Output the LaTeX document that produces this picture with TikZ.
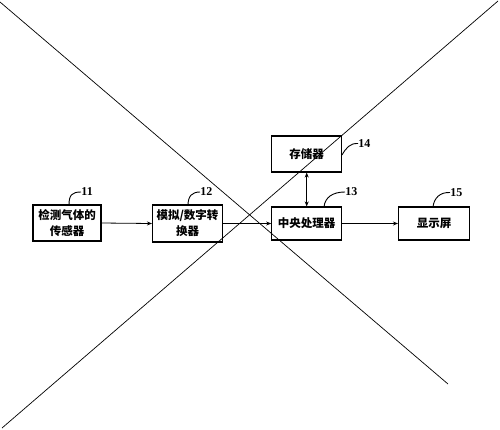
\documentclass[tikz,border=0pt]{standalone}
\usepackage{fontspec}
\setmainfont{Liberation Serif}
\newfontfamily\cjk{Noto Sans CJK SC}
\usetikzlibrary{arrows.meta}
\begin{document}
\begin{tikzpicture}[x=1pt,y=-1pt,
  blk/.style={draw,line width=1.1pt,inner sep=0pt,align=center,
    font=\cjk\bfseries\fontsize{11.5}{16}\selectfont},
  conn/.style={line width=0.8pt,-{Stealth[length=5pt,width=4pt]}},
  lead/.style={line width=0.9pt},
  num/.style={font=\bfseries\fontsize{12}{12}\selectfont,inner sep=0pt,anchor=west},
  cross/.style={line width=0.7pt}]
\useasboundingbox (0,0) rectangle (500,429);
\fill[white] (0,0) rectangle (500,429);
% blocks
\node[blk,minimum width=68pt,minimum height=36pt] (s) at (67,223) {检测气体的\\传感器};
\node[blk,minimum width=70pt,minimum height=37pt] (ad) at (187.5,223.5) {模拟/数字转\\换器};
\node[blk,minimum width=70pt,minimum height=33pt] (cpu) at (306.7,223.5) {中央处理器};
\node[blk,minimum width=70pt,minimum height=36pt] (mem) at (306.7,154) {存储器};
\node[blk,minimum width=71pt,minimum height=33pt] (disp) at (434,223.5) {显示屏};
% connectors
\draw[conn] (s.east) -- (ad.west);
\draw[conn] (ad.east) -- (cpu.west);
\draw[conn] (cpu.east) -- (disp.west);
\draw[line width=0.8pt,{Stealth[length=5pt,width=4pt]}-{Stealth[length=5pt,width=4pt]}] (mem.south) -- (cpu.north);
% labels
\coordinate (l1) at (69,205);
\coordinate (l2) at (188,205.5);
\coordinate (l3) at (324,207);
\coordinate (l4) at (342,155);
\coordinate (l5) at (433,207);
\draw[lead] (l1) .. controls (69,195) and (72,192) .. (81,192) node[num] (n11) {11};
\draw[lead] (l2) .. controls (188,196) and (192,192) .. (200,192) node[num] (n12) {12};
\draw[lead] (l3) .. controls (325,197) and (333,192) .. (345,192) node[num] (n13) {13};
\draw[lead] (l4) .. controls (346,148) and (350,143) .. (358,143.5) node[num] (n14) {14};
\draw[lead] (l5) .. controls (434,198) and (440,192) .. (450,192.5) node[num] (n15) {15};
% cross
\draw[cross] (0,2) -- (448,384);
\draw[cross] (2,428) -- (498,1);
\end{tikzpicture}
\end{document}
